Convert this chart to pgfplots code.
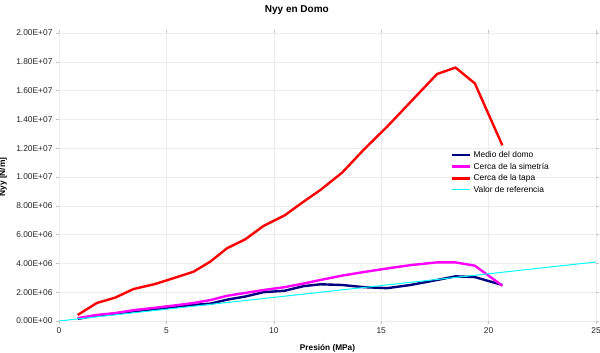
\documentclass[border=0pt]{standalone}
\usepackage{pgfplots}
\pgfplotsset{compat=1.18}
\usepackage{fontspec}
\setmainfont{Liberation Sans}
\definecolor{cNavy}{RGB}{0,0,128}
\definecolor{cMag}{RGB}{255,0,255}
\definecolor{cRed}{RGB}{255,0,0}
\definecolor{cCyan}{RGB}{0,255,255}
\begin{document}
\begin{tikzpicture}
\begin{axis}[
  at={(0,0)}, anchor=south west,
  scale only axis, width=537pt, height=288pt,
  xmin=0, xmax=25, ymin=0, ymax=2e7,
  xtick={0,5,10,15,20,25},
  ytick={0,2e6,4e6,6e6,8e6,1e7,1.2e7,1.4e7,1.6e7,1.8e7,2e7},
  yticklabels={0.00E+00,2.00E+06,4.00E+06,6.00E+06,8.00E+06,1.00E+07,1.20E+07,1.40E+07,1.60E+07,1.80E+07,2.00E+07},
  /pgf/number format/assume math mode=true,
  scaled y ticks=false,
  tick label style={font=\fontsize{8.4}{10}\selectfont, text=black!85},
  axis line style={draw=none},
  tick align=outside, major tick length=3pt,
  tick style={gray!50, line width=0.4pt},
  grid=major, major grid style={gray!15, line width=0.4pt},
  extra y ticks={2e7}, extra y tick labels={},
  extra y tick style={grid style={gray!45, line width=0.6pt}},
  title={\textbf{Nyy en Domo}},
  title style={at={(0.443,1)}, anchor=center, yshift=17pt, font=\fontsize{10}{12}\selectfont},
  xlabel={\textbf{Presión (MPa)}},
  xlabel style={at={(0.5,0)}, anchor=center, yshift=-27pt, font=\fontsize{8.25}{10}\selectfont},
  ylabel={\textbf{Nyy [N/m]}},
  ylabel style={at={(0,0.5)}, anchor=center, yshift=56pt, font=\fontsize{8.4}{10}\selectfont},
  legend style={at={(0.73,0.597)}, anchor=north west, draw=none, fill=none,
    font=\fontsize{8.4}{10}\selectfont, cells={anchor=west}, row sep=0pt, inner sep=0pt},
  legend image code/.code={\draw[#1] (0pt,0pt) -- (18pt,0pt);},
]
\addplot[color=cNavy, line width=2.4pt, line join=round] coordinates {
(0.87,0.15e6) (1.76,0.38e6) (2.61,0.5e6) (3.47,0.68e6) (4.48,0.82e6) (5.49,1.0e6) (6.26,1.12e6) (7.04,1.2e6) (7.82,1.48e6) (8.67,1.7e6) (9.52,2.0e6) (10.5,2.1e6) (11.39,2.42e6) (12.17,2.55e6) (13.18,2.5e6) (14.19,2.35e6) (15.28,2.28e6) (16.36,2.5e6) (17.6,2.85e6) (18.46,3.1e6) (19.36,3.05e6) (20.64,2.5e6)};
\addlegendentry{Medio del domo}
\addplot[color=cMag, line width=2.4pt, line join=round] coordinates {
(0.87,0.2e6) (1.76,0.42e6) (2.61,0.55e6) (3.47,0.75e6) (4.48,0.92e6) (5.49,1.1e6) (6.26,1.25e6) (7.04,1.45e6) (7.82,1.75e6) (8.67,1.95e6) (9.52,2.15e6) (10.5,2.35e6) (11.39,2.6e6) (12.17,2.85e6) (13.18,3.15e6) (14.19,3.4e6) (15.28,3.65e6) (16.36,3.88e6) (17.6,4.07e6) (18.46,4.07e6) (19.36,3.84e6) (20.64,2.45e6)};
\addlegendentry{Cerca de la simetría}
\addplot[color=cRed, line width=2.4pt, line join=round] coordinates {
(0.87,0.42e6) (1.76,1.25e6) (2.61,1.62e6) (3.47,2.22e6) (4.48,2.57e6) (5.49,3.05e6) (6.26,3.42e6) (7.04,4.12e6) (7.82,5.05e6) (8.67,5.67e6) (9.52,6.6e6) (10.5,7.33e6) (11.39,8.29e6) (12.17,9.1e6) (13.18,10.3e6) (14.19,11.9e6) (15.28,13.5e6) (16.36,15.2e6) (17.6,17.15e6) (18.46,17.6e6) (19.36,16.5e6) (20.64,12.2e6)};
\addlegendentry{Cerca de la tapa}
\addplot[color=cCyan, line width=1pt] coordinates {(0,0) (25,4.1e6)};
\addlegendentry{Valor de referencia}
\end{axis}
\pgfresetboundingbox
\path[use as bounding box] (-59pt,-32pt) rectangle (541pt,321pt);
\end{tikzpicture}
\end{document}
